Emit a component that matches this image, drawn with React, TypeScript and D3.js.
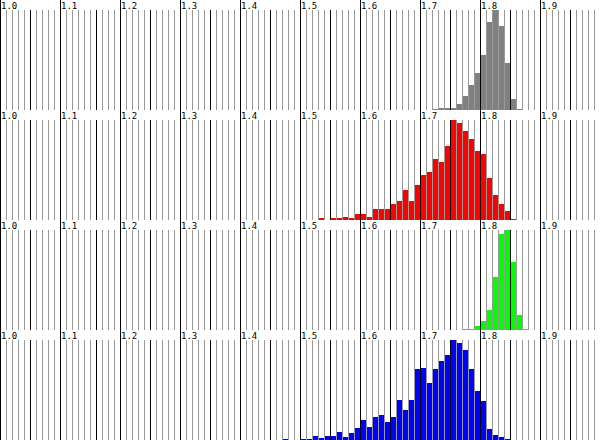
import React from 'react';
import * as d3 from 'd3';

const grayStart = 1.72;
const grayValues = [0.7, 1.7, 2.3, 2.3, 6.3, 14.3, 25.3, 36.7, 54.3, 87.3, 99.3, 83.3, 46.7, 11.3, 1.3];

const redStart = 1.53;
const redValues = [
  1.7, 0, 1.7, 1.7, 3.3, 2.3, 6.3, 6.3, 3.3, 11.3, 11.3, 11.3, 16.3, 19.3, 29.3, 19.3, 34.3,
  44.3, 47.3, 60.3, 57.3, 73.3, 99.3, 96.3, 88.3, 80.3, 68.3, 65.3, 41.3, 25.3, 16.3, 9.3, 0.7,
];

const greenStart = 1.77;
const greenValues = [0.7, 0.7, 4.3, 9.3, 20.3, 52.3, 95.3, 99.3, 67.3, 15.3, 0.7];

const blueStart = 1.47;
const blueValues = [
  0.7, 0, 0, 1.3, 0.7, 4.3, 1.7, 4.3, 4.3, 8.3, 3.3, 7.3, 12.3, 20.3, 13.3, 23.3, 25.3, 18.3,
  23.3, 39.3, 29.3, 39.3, 70.3, 71.3, 56.3, 70.3, 78.3, 84.3, 99.3, 96.3, 89.3, 70.3, 48.3,
  38.3, 11.3, 5.3, 2.7, 0.7,
];

const majorTicks = [1.0, 1.1, 1.2, 1.3, 1.4, 1.5, 1.6, 1.7, 1.8, 1.9];
const tickLabels = ['1.0', '1.1', '1.2', '1.3', '1.4', '1.5', '1.6', '1.7', '1.8', '1.9'];
// black half-way lines (the second one sits one step late in the original)
const midTicks = [1.05, 1.16, 1.25, 1.35, 1.45, 1.55, 1.65, 1.75, 1.85, 1.95];

const W = 606;
const H = 440;
const ROW_H = 110;
const STRIP = 10;
const BIN = 0.01;

const rows = [
  { color: '#808080', start: grayStart, values: grayValues },
  { color: '#ff0000', start: redStart, values: redValues },
  { color: '#00ff00', start: greenStart, values: greenValues },
  { color: '#0000ff', start: blueStart, values: blueValues },
];

const x = d3.scaleLinear().domain([1.0, 2.0]).range([0, 600]);
const minorTicks = d3.range(0, 100).map(i => +(1 + i * BIN).toFixed(2));

const px = (v: number) => Math.round(x(v)) + 0.5;

function Row({ row, k }: { row: typeof rows[number]; k: number }) {
  const y0 = k * ROW_H;
  const y = d3.scaleLinear()
    .domain([0, d3.max(row.values) as number])
    .range([y0 + ROW_H, y0 + STRIP]);

  const isMid = (v: number) => midTicks.some(m => Math.abs(m - v) < 1e-6);
  const isMajor = (v: number) => majorTicks.some(m => Math.abs(m - v) < 1e-6);

  return (
    <g>
      {row.values.map((v, i) => {
        if (v <= 0) return null;
        const xs = Math.round(x(row.start + i * BIN));
        const top = Math.round(y(v));
        const h = Math.max(1, y0 + ROW_H - top);
        return (
          <rect key={i} x={xs} y={y0 + ROW_H - h} width={6} height={h} fill={row.color} />
        );
      })}
      {minorTicks.filter(v => !isMajor(v)).map(v => (
        <line
          key={v}
          x1={px(v)}
          x2={px(v)}
          y1={y0 + STRIP}
          y2={y0 + ROW_H}
          stroke={isMid(v) ? '#000' : '#999'}
          strokeWidth={1}
        />
      ))}
      <rect x={0} y={y0} width={W} height={STRIP} fill="#fff" />
      {majorTicks.map((v, i) => (
        <g key={v}>
          <line x1={px(v)} x2={px(v)} y1={y0} y2={y0 + ROW_H} stroke="#000" strokeWidth={1} />
          <text
            x={x(v) + 1}
            y={y0 + 9}
            fontFamily="'DejaVu Sans Mono', monospace"
            fontSize={9}
            fill="#000"
          >
            {tickLabels[i]}
          </text>
        </g>
      ))}
    </g>
  );
}

export default function App() {
  return (
    <svg
      width={W}
      height={H}
      shapeRendering="crispEdges"
      style={{ position: 'absolute', left: 0, top: 0, background: '#fff' }}
    >
      <rect width={W} height={H} fill="#fff" />
      {rows.map((row, k) => (
        <Row key={k} row={row} k={k} />
      ))}
    </svg>
  );
}
